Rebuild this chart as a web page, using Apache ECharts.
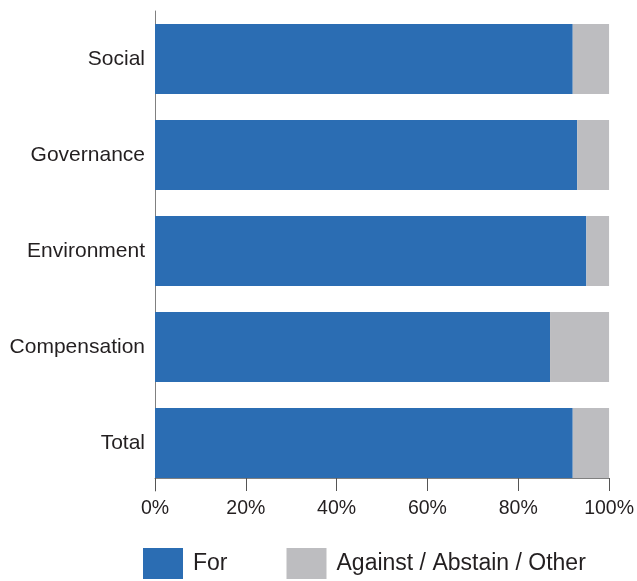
<!DOCTYPE html>
<html>
<head>
<meta charset="utf-8">
<script src="https://cdn.jsdelivr.net/npm/echarts@6/dist/echarts.min.js"></script>
<style>
  html, body { margin: 0; padding: 0; background: #fff; }
  #chart { width: 637px; height: 581px; }
</style>
</head>
<body>
<div id="chart"></div>
<script>
// data (percent of votes)
const categories = ['Social', 'Governance', 'Environment', 'Compensation', 'Total'];
const forVotes = [92, 93, 95, 87, 92];
const againstVotes = [8, 7, 5, 13, 8];
const seriesNames = ['For', 'Against / Abstain / Other'];

const textColor = '#231f20';
const fontFamily = '"Liberation Sans", Arial, Helvetica, sans-serif';

const myChart = echarts.init(document.getElementById('chart'));

const option = {
    backgroundColor: '#fff',
    animation: false,
    grid: {
        left: 155,
        right: 27,
        top: 11,
        height: 480
    },
    legend: {
        left: 143,
        top: 548,
        padding: 0,
        itemWidth: 40,
        itemHeight: 31,
        itemGap: 59,
        icon: 'rect',
        data: seriesNames,
        textStyle: {
            color: textColor,
            fontFamily: fontFamily,
            fontSize: 23,
            padding: [6, 0, 0, 5]
        }
    },
    xAxis: {
        type: 'value',
        min: 0,
        max: 100,
        interval: 20,
        offset: -13,
        axisLine: { show: true, lineStyle: { color: '#808080', width: 1 } },
        axisTick: { show: true, length: 13, lineStyle: { color: '#555', width: 1 } },
        splitLine: { show: false },
        axisLabel: {
            formatter: '{value}%',
            color: textColor,
            fontFamily: fontFamily,
            fontSize: 19.5,
            margin: 21
        }
    },
    yAxis: {
        type: 'category',
        inverse: true,
        data: categories,
        axisLine: { show: true, lineStyle: { color: '#808080', width: 1 } },
        axisTick: { show: false },
        axisLabel: {
            color: textColor,
            fontFamily: fontFamily,
            fontSize: 21,
            margin: 10,
            padding: [4, 0, 0, 0]
        }
    },
    series: [
        {
            name: seriesNames[0],
            type: 'bar',
            stack: 'votes',
            barWidth: 70,
            itemStyle: { color: '#2b6db3' },
            data: forVotes
        },
        {
            name: seriesNames[1],
            type: 'bar',
            stack: 'votes',
            barWidth: 70,
            itemStyle: { color: '#bdbdc0' },
            data: againstVotes
        }
    ]
};

myChart.setOption(option);
</script>
</body>
</html>
